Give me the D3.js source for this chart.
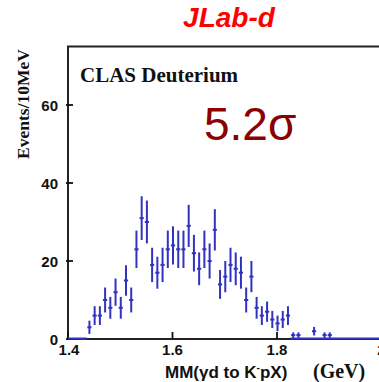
<!DOCTYPE html>
<html>
<head>
<meta charset="utf-8">
<script src="https://cdn.jsdelivr.net/npm/d3@7"></script>
<style>
  body { margin: 0; background: #fff; }
  svg { display: block; }
</style>
</head>
<body>
<div id="chart"></div>
<script>
// bin centres (GeV), counts per 10 MeV and their error bars
var masses = [1.441, 1.451, 1.461, 1.471, 1.481, 1.491, 1.501, 1.511, 1.521, 1.531,
              1.541, 1.551, 1.561, 1.571, 1.581, 1.591, 1.601, 1.611, 1.621, 1.631,
              1.641, 1.651, 1.661, 1.671, 1.681, 1.691, 1.701, 1.711, 1.721, 1.731,
              1.741, 1.751, 1.761, 1.771, 1.781, 1.791, 1.801, 1.811, 1.821, 1.831,
              1.841, 1.871, 1.891, 1.901];
var counts = [3, 6, 6, 10, 8, 12, 8, 15, 10, 23,
              31, 30, 19, 17, 19, 23, 24, 23, 23, 29,
              22, 18, 23, 20, 28, 14, 16, 19, 18, 17,
              10, 16, 8, 6, 7, 5, 4, 5, 6, 1,
              1, 2, 1, 1];
var errors = [1.7, 2.4, 2.4, 3.2, 2.8, 3.5, 2.8, 3.9, 3.2, 4.8,
              5.6, 5.5, 4.4, 4.1, 4.4, 4.8, 4.9, 4.8, 4.8, 5.4,
              4.7, 4.2, 4.8, 4.5, 5.3, 3.7, 4.0, 4.4, 4.2, 4.1,
              3.2, 4.0, 2.8, 2.4, 2.6, 2.2, 2.0, 2.2, 2.4, 0.7,
              0.7, 1.1, 0.7, 0.7];
// empty bins drawn on the zero line
var zeroRanges = [[1.40, 1.436], [1.826, 2.0]];

var xTicks = [1.4, 1.6, 1.8, 2.0];
var xTickLabels = ["1.4", "1.6", "1.8", "2"];
var yTicks = [0, 20, 40, 60];

var width = 379, height = 382;
var blue = "#3232c0";

var svg = d3.select("#chart").append("svg")
  .attr("width", width)
  .attr("height", height);

var x = d3.scaleLinear().domain([1.4, 2.0]).range([68, 381.5]);
var y = d3.scaleLinear().domain([0, 75]).range([339, 46.5]);

// title
svg.append("text")
  .attr("x", 229).attr("y", 27)
  .attr("text-anchor", "middle")
  .attr("font-family", "Liberation Sans, Arial, sans-serif")
  .attr("font-weight", "bold")
  .attr("font-style", "italic")
  .attr("font-size", 28)
  .attr("fill", "#ff0000")
  .text("JLab-d");

// frame
svg.append("rect")
  .attr("x", x(1.4)).attr("y", y(75))
  .attr("width", x(2.0) - x(1.4))
  .attr("height", y(0) - y(75))
  .attr("fill", "none")
  .attr("stroke", "#222")
  .attr("stroke-width", 2);

// y ticks (crossing the axis, mostly inward)
var yAxis = svg.append("g");
yAxis.selectAll("line").data(yTicks).enter().append("line")
  .attr("x1", x(1.4) - 2).attr("x2", x(1.4) + 5)
  .attr("y1", function(d) { return y(d); })
  .attr("y2", function(d) { return y(d); })
  .attr("stroke", "#111").attr("stroke-width", 1.8);
yAxis.selectAll("text").data(yTicks).enter().append("text")
  .attr("x", 58)
  .attr("y", function(d) { return y(d) + 5.5; })
  .attr("text-anchor", "end")
  .attr("font-family", "Liberation Sans, Arial, sans-serif")
  .attr("font-weight", "bold")
  .attr("font-size", 15)
  .attr("fill", "#111")
  .text(function(d) { return d; });

// x ticks (inward)
var xAxis = svg.append("g");
xAxis.selectAll("line").data(xTicks).enter().append("line")
  .attr("x1", function(d) { return x(d); })
  .attr("x2", function(d) { return x(d); })
  .attr("y1", y(0) - 7).attr("y2", y(0))
  .attr("stroke", "#111").attr("stroke-width", 1.8);
xAxis.selectAll("text").data(xTicks).enter().append("text")
  .attr("x", function(d, i) { return x(d) + (i == 0 ? 1 : 0); })
  .attr("y", 355)
  .attr("text-anchor", "middle")
  .attr("font-family", "Liberation Sans, Arial, sans-serif")
  .attr("font-weight", "bold")
  .attr("font-size", 15)
  .attr("fill", "#111")
  .text(function(d, i) { return xTickLabels[i]; });

// axis titles
svg.append("text")
  .attr("transform", "translate(29,104) rotate(-90)")
  .attr("text-anchor", "middle")
  .attr("font-family", "Liberation Serif, Times New Roman, serif")
  .attr("font-weight", "bold")
  .attr("font-size", 17.5)
  .attr("fill", "#111")
  .text("Events/10MeV");

var xt = svg.append("text")
  .attr("x", 165).attr("y", 378)
  .attr("font-family", "Liberation Sans, Arial, sans-serif")
  .attr("font-weight", "bold")
  .attr("font-size", 17)
  .attr("fill", "#111");
xt.append("tspan").text("MM(\u03b3d to K");
xt.append("tspan").attr("font-size", 10).attr("dy", -7).text("-");
xt.append("tspan").attr("dy", 7).text("pX)");
svg.append("text")
  .attr("x", 313).attr("y", 378)
  .attr("font-family", "Liberation Serif, Times New Roman, serif")
  .attr("font-weight", "bold")
  .attr("font-size", 20)
  .attr("fill", "#111")
  .text("(GeV)");

// labels inside the plot
svg.append("text")
  .attr("x", 80).attr("y", 82)
  .attr("font-family", "Liberation Serif, Times New Roman, serif")
  .attr("font-weight", "bold")
  .attr("font-size", 21)
  .attr("fill", "#111")
  .text("CLAS Deuterium");

svg.append("text")
  .attr("x", 204).attr("y", 140)
  .attr("font-family", "Liberation Sans, Arial, sans-serif")
  .attr("font-size", 46)
  .attr("fill", "#8b0000")
  .text("5.2\u03c3");

// empty bins
svg.append("g").selectAll("line").data(zeroRanges).enter().append("line")
  .attr("x1", function(d) { return x(d[0]); })
  .attr("x2", function(d) { return x(d[1]); })
  .attr("y1", y(0) - 0.5).attr("y2", y(0) - 0.5)
  .attr("stroke", blue).attr("stroke-width", 2);

// data points with error bars
var pts = svg.append("g").selectAll("g").data(counts).enter().append("g");
pts.append("line")
  .attr("x1", function(d, i) { return x(masses[i]); })
  .attr("x2", function(d, i) { return x(masses[i]); })
  .attr("y1", function(d, i) { return y(Math.max(0, d - errors[i])); })
  .attr("y2", function(d, i) { return y(d + errors[i]); })
  .attr("stroke", blue).attr("stroke-width", 2);
pts.append("line")
  .attr("x1", function(d, i) { return x(masses[i] - 0.004); })
  .attr("x2", function(d, i) { return x(masses[i] + 0.004); })
  .attr("y1", function(d) { return y(d); })
  .attr("y2", function(d) { return y(d); })
  .attr("stroke", blue).attr("stroke-width", 2);
</script>
</body>
</html>
